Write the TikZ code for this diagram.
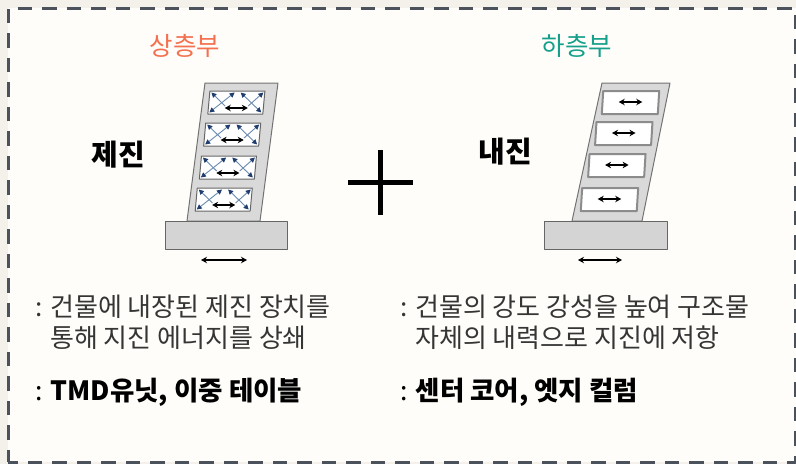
\documentclass[tikz,border=0pt]{standalone}
\usepackage{fontspec}
\setmainfont{Noto Sans CJK KR}
\usetikzlibrary{arrows.meta,calc}

\definecolor{pagebg}{HTML}{F4F1EA}
\definecolor{panelbg}{HTML}{FEFDF9}
\definecolor{framegray}{HTML}{4B525C}
\definecolor{upperorange}{HTML}{F4704F}
\definecolor{lowerteal}{HTML}{16A08B}
\definecolor{bracenavy}{HTML}{1F3D6E}
\definecolor{braceblue}{HTML}{6A8AB0}
\definecolor{desctext}{HTML}{353535}

\tikzset{
  tower/.style={fill=black!15, draw=black!55, line width=1pt},
  slab/.style={fill=black!17, draw=black!60, line width=1pt},
  dampwin/.style={fill=white, draw=black!60, line width=1pt},
  corewin/.style={fill=white, draw=black!45, line width=2pt},
  brace/.style={draw=braceblue, line width=0.9pt,
    {Triangle[width=5pt,length=5pt,color=bracenavy]}-{Triangle[width=5pt,length=5pt,color=bracenavy]}},
  halfbrace/.style={draw=braceblue, line width=0.9pt,
    {Triangle[width=5pt,length=5pt,color=bracenavy]}-},
  sway/.style={<->, line width=1.7pt, >={Stealth[length=6pt,width=6.5pt]}},
  heading/.style={font=\fontsize{25.5}{26}\selectfont},
  kind/.style={font=\fontsize{29}{29}\selectfont\bfseries},
  desc/.style={font=\fontsize{26}{31}\selectfont, text=desctext, align=left, anchor=base west, inner sep=0pt},
  example/.style={font=\fontsize{26.5}{31}\selectfont\bfseries, anchor=base west, inner sep=0pt},
}
\newcommand{\lightcolon}{{\mdseries :}}

\begin{document}
\begin{tikzpicture}[x=1pt, y=-1pt, line join=round]
  \useasboundingbox (0,0) rectangle (796,464);
  % --- background and dashed frame ---
  \fill[pagebg] (0,0) rectangle (796,464);
  \fill[panelbg] (8,8) rectangle (796,462);
  \draw[framegray, line width=3pt, dash pattern=on 14.5pt off 10pt, dash phase=2pt]
    (8,462) -- (8,8) -- (795,8) -- (795,462) -- cycle;

  % --- headings ---
  \node[heading, text=upperorange] (upper) at (185,46) {상층부};
  \node[heading, text=lowerteal] (lower) at (577,46) {하층부};
  \node[kind] (damping) at (118,155) {제진};
  \node[kind] (resist) at (505,152) {내진};

  % --- damped building: tower, slab, braced floors ---
  \fill[tower] (187,221) -- (260,221) -- (278,83) -- (205,83) -- cycle;
  \foreach \yt in {91,123,156,188} {
    \pgfmathsetmacro\xl{187+0.13*(221-\yt)+6}
    \coordinate (wD) at (\xl,\yt);
    \coordinate (wC) at (\xl+55,\yt);
    \coordinate (wA) at (\xl-2.1,\yt+23);
    \coordinate (wB) at (\xl+52.9,\yt+23);
    \draw[dampwin] (wA) -- (wB) -- (wC) -- (wD) -- cycle;
    \draw[brace] ($(wA)+(1.5,-1.5)$) -- ($(wD)!0.45!(wC)+(0,1.5)$);
    \draw[brace] ($(wB)+(-1.5,-1.5)$) -- ($(wD)!0.56!(wC)+(0,1.5)$);
    \draw[halfbrace] ($(wD)+(1.5,1.5)$) -- ($(wA)!0.3!(wB)+(0.8,-8)$);
    \draw[halfbrace] ($(wC)+(-1.5,1.5)$) -- ($(wA)!0.72!(wB)+(0.8,-8)$);
    \draw[sway] ($(wA)!0.29!(wB)+(1,-6)$) -- ($(wA)!0.71!(wB)+(1,-6)$);
  }
  \draw[slab] (165,221) rectangle (287,249);
  \coordinate (shakeL) at (201,260);
  \coordinate (shakeR) at (247,260);
  \draw[sway] (shakeL) -- (shakeR);

  % --- plus sign ---
  \coordinate (plusW) at (348,182);
  \coordinate (plusE) at (413,182);
  \coordinate (plusN) at (380,150);
  \coordinate (plusS) at (380,215);
  \draw[line width=5pt] (plusW) -- (plusE);
  \draw[line width=5pt] (plusN) -- (plusS);

  % --- stiff building: tower, slab, open floors ---
  \fill[tower] (572,221) -- (642,221) -- (670,83) -- (602,83) -- cycle;
  \foreach \yt in {91,122,154,188} {
    \pgfmathsetmacro\xl{572+0.217*(221-\yt)+3}
    \coordinate (vD) at (\xl,\yt);
    \coordinate (vC) at (\xl+56,\yt);
    \coordinate (vA) at (\xl-1.4,\yt+23);
    \coordinate (vB) at (\xl+54.6,\yt+23);
    \draw[corewin] (vA) -- (vB) -- (vC) -- (vD) -- cycle;
    \draw[sway] ($(vA)!0.29!(vB)+(0.7,-12)$) -- ($(vA)!0.71!(vB)+(0.7,-12)$);
  }
  \draw[slab] (544,221) rectangle (667,249);
  \coordinate (quakeL) at (578,260);
  \coordinate (quakeR) at (622,260);
  \draw[sway] (quakeL) -- (quakeR);

  % --- descriptions (anchored on the last line's baseline) ---
  \node[desc] (dampdesc) at (35,347) {: 건물에 내장된 제진 장치를\\\phantom{: }통해 지진 에너지를 상쇄};
  \node[desc] (resistdesc) at (400,347) {: 건물의 강도 강성을 높여 구조물\\\phantom{: }자체의 내력으로 지진에 저항};
  \node[example] (dampex) at (35,400) {\lightcolon{} TMD유닛, 이중 테이블};
  \node[example] (resistex) at (400,400) {\lightcolon{} 센터 코어, 엣지 컬럼};
\end{tikzpicture}
\end{document}
